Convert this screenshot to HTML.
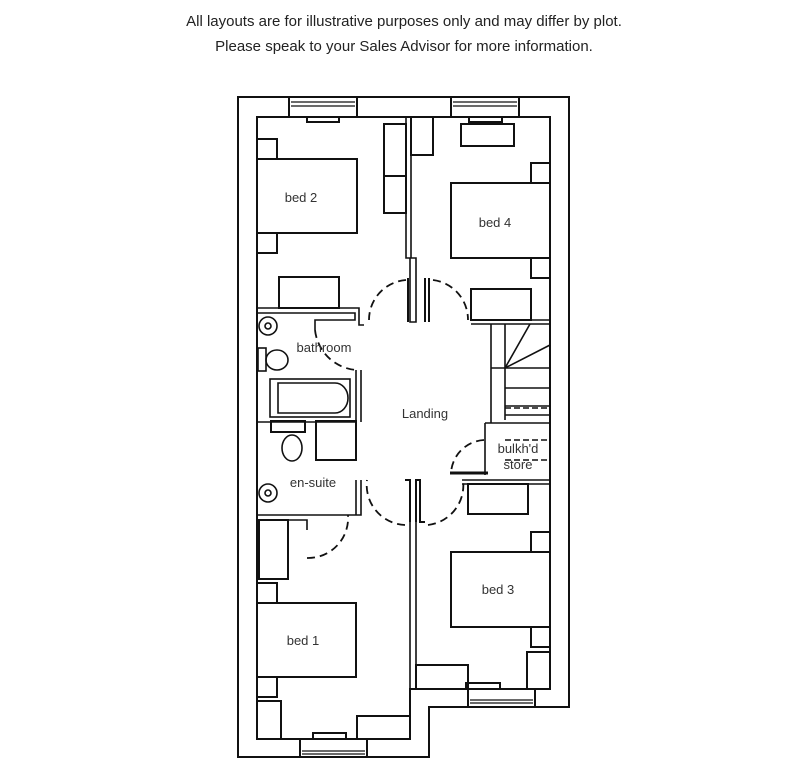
<!DOCTYPE html>
<html><head><style>
body{margin:0;background:#fff;width:808px;height:768px;overflow:hidden}
.h{position:absolute;left:0;width:808px;text-align:center;font-family:"Liberation Sans",sans-serif;font-size:15px;color:#222}
svg{position:absolute;left:0;top:0}
</style></head><body>
<div class="h" style="top:13px">All layouts are for illustrative purposes only and may differ by plot.</div>
<div class="h" style="top:38px">Please speak to your Sales Advisor for more information.</div>
<svg width="808" height="768" viewBox="0 0 808 768" fill="none" stroke="#111" stroke-width="2">
<path d="M238 97 H569 V707 H429 V757 H238 Z" fill="#fff"/>
<path d="M257 117 H550 V689 H410 V739 H257 Z"/>
<g fill="#fff">
<rect x="289" y="97" width="68" height="20"/><rect x="451" y="97" width="68" height="20"/>
<rect x="300" y="739" width="67" height="18"/><rect x="468" y="689" width="67" height="18"/>
</g>
<g stroke-width="1.3">
<path d="M291 102 H355 M291 106 H355 M453 102 H517 M453 106 H517 M302 751 H365 M302 754 H365 M470 700 H533 M470 703 H533"/>
</g>
<rect x="307" y="117" width="32" height="5"/><rect x="469" y="117" width="33" height="5"/>
<rect x="313" y="733" width="33" height="6"/><rect x="466" y="683" width="34" height="6"/>
<path d="M406 117 V258 H410 V322 H416 V258 H411 V117" stroke-width="1.6"/>
<path d="M408 278 V322 M429 278 V322 M425 278 V322" stroke-width="2"/>
<path d="M410 480 V689 M416 480 V689" stroke-width="1.6"/>
<path d="M405 480 H410 V522 M416 522 V480 H420 V522 H425" stroke-width="2"/>
<path d="M257 308 H359 V325 H364 M257 313 H355 V320 H315 V330" stroke-width="1.6"/>
<path d="M356 370 V422 H257 M361 370 V422" stroke-width="1.6"/>
<path d="M361 480 V515 H307 M356 480 V515 H257 M257 520 H307 V530" stroke-width="1.6"/>
<path d="M471 320 H550 M471 324 H550" stroke-width="1.6"/>
<path d="M462 480 H550 M462 484 H550 M485 423 H550 M485 423 V475" stroke-width="1.6"/>
<path d="M450 473 H488" stroke-width="3"/>
<g stroke-width="1.6">
<path d="M491 324 V423 M505 324 V420 M491 368 H505 M505 368 H550 M505 388 H550 M505 406 H550 M505 415 H550"/>
<path d="M505 368 L530 324 M505 368 L550 345"/>
<path d="M505 408 H550 M505 440 H550 M505 460 H550" stroke-dasharray="6 3"/>
</g>
<g stroke-width="2">
<rect x="257" y="159" width="100" height="74"/><rect x="257" y="139" width="20" height="20"/><rect x="257" y="233" width="20" height="20"/>
<rect x="451" y="183" width="99" height="75"/><rect x="531" y="163" width="19" height="20"/><rect x="531" y="258" width="19" height="20"/>
<rect x="451" y="552" width="99" height="75"/><rect x="531" y="532" width="19" height="20"/><rect x="531" y="627" width="19" height="20"/>
<rect x="257" y="603" width="99" height="74"/><rect x="257" y="583" width="20" height="20"/><rect x="257" y="677" width="20" height="20"/>
<rect x="384" y="124" width="22" height="89"/><path d="M384 176 H406"/>
<rect x="411" y="117" width="22" height="38"/>
<rect x="461" y="124" width="53" height="22"/>
<rect x="279" y="277" width="60" height="31"/>
<rect x="471" y="289" width="60" height="31"/>
<rect x="468" y="484" width="60" height="30"/>
<rect x="527" y="652" width="23" height="37"/>
<rect x="416" y="665" width="52" height="24"/>
<rect x="259" y="520" width="29" height="59"/>
<rect x="257" y="701" width="24" height="38"/>
<rect x="357" y="716" width="53" height="23"/>
<rect x="316" y="421" width="40" height="39"/>
<rect x="271" y="421" width="34" height="11"/>
</g>
<g stroke-width="1.6">
<rect x="270" y="379" width="80" height="38"/>
<path d="M278 383 H335 A13 15 0 0 1 335 413 H278 Z"/>
<circle cx="268" cy="326" r="9"/><circle cx="268" cy="326" r="3"/>
<circle cx="268" cy="493" r="9"/><circle cx="268" cy="493" r="3"/>
<rect x="258" y="348" width="8" height="23"/><ellipse cx="277" cy="360" rx="11" ry="10"/>
<ellipse cx="292" cy="448" rx="10" ry="13"/>
</g>
<g stroke-width="1.8" stroke-dasharray="8 5">
<path d="M406 280 A40 40 0 0 0 369 320"/>
<path d="M433 280 A40 40 0 0 1 468 320"/>
<path d="M315 330 A45 45 0 0 0 356 370"/>
<path d="M484 440 A35 35 0 0 0 451 473"/>
<path d="M405 525 A40 40 0 0 1 367 480"/>
<path d="M428 525 A40 40 0 0 0 463 480"/>
<path d="M307 558 A40 40 0 0 0 348 515"/>
</g>
</svg>
<svg width="808" height="768" style="font-family:'Liberation Sans',sans-serif;font-size:13px;fill:#333">
<text x="301" y="202" text-anchor="middle">bed 2</text>
<text x="495" y="227" text-anchor="middle">bed 4</text>
<text x="324" y="352" text-anchor="middle">bathroom</text>
<text x="425" y="418" text-anchor="middle">Landing</text>
<text x="518" y="453" text-anchor="middle">bulkh'd</text>
<text x="518" y="469" text-anchor="middle">store</text>
<text x="313" y="487" text-anchor="middle">en-suite</text>
<text x="498" y="594" text-anchor="middle">bed 3</text>
<text x="303" y="645" text-anchor="middle">bed 1</text>
</svg>
</body></html>
